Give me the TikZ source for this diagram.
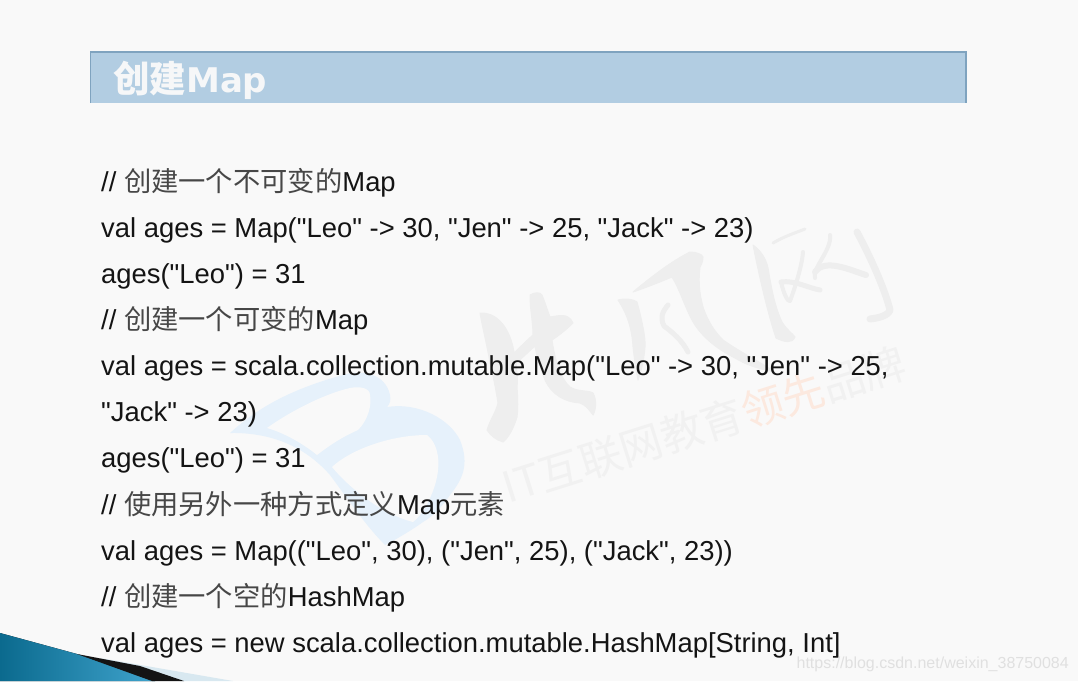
\documentclass[tikz,border=0pt]{standalone}
\usepackage{fontspec}
\newfontfamily\latin{Liberation Sans}
\newfontfamily\titlefont{DejaVu Sans Bold}
\newfontfamily\cjk{Noto Sans CJK SC}
\newcommand{\zh}[1]{{\cjk\fontsize{27.3}{27.3}\selectfont\color{black!72}#1}}
\definecolor{bgc}{HTML}{F9F9F9}
\definecolor{barc}{HTML}{B2CDE2}
\definecolor{barl}{HTML}{7FA3BF}
\definecolor{wmgray}{HTML}{EEEEEE}
\definecolor{wmblue}{HTML}{E6F1FB}
\definecolor{wmtext}{HTML}{F1F1F1}
\definecolor{wmorange}{HTML}{FCE9DF}
\definecolor{tridark}{HTML}{0B6A8E}
\definecolor{trilight}{HTML}{3FA3CC}
\definecolor{strip}{HTML}{D8E8F0}
\tikzset{
  x=1pt,y=-1pt,
  codeline/.style={anchor=base west,inner sep=0pt,font=\latin\fontsize{27.4}{27.4}\selectfont,text=black!92},
  wmfill/.style={fill=wmgray,draw=wmgray,line width=1pt,line join=round},
  wmstroke/.style={draw=wmgray,line cap=round,line join=round},
}
\begin{document}
\begin{tikzpicture}
\useasboundingbox (0,0) rectangle (1078,681);
\fill[bgc] (0,0) rectangle (1078,681);
% B logo watermark
\fill[wmblue] (230,433) .. controls (250,415) and (280,392) .. (343,375) .. controls (360,370) and (385,372) .. (390,395)
 .. controls (391,400) and (390,404) .. (387,407) .. controls (420,402) and (450,420) .. (460,440) .. controls (470,465) and (462,480) .. (450,495)
 .. controls (440,510) and (430,518) .. (423,522) .. controls (412,530) and (395,540) .. (385,545)
 .. controls (365,525) and (345,495) .. (330,475) .. controls (315,458) and (285,432) .. (230,433) -- cycle;
\fill[bgc] (267,428) .. controls (285,415) and (320,395) .. (350,388) .. controls (360,386) and (370,388) .. (370,395)
 .. controls (372,405) and (368,420) .. (358,430) .. controls (342,437) and (330,445) .. (317,455) .. controls (305,445) and (285,433) .. (267,428) -- cycle;
\fill[bgc] (332,467) .. controls (350,450) and (390,435) .. (427,435) .. controls (440,445) and (443,470) .. (430,498)
 .. controls (425,510) and (418,518) .. (413,522) .. controls (385,515) and (353,492) .. (332,467) -- cycle;
% calligraphy watermark
\fill[wmfill] (480,313) .. controls (495,312) and (508,325) .. (513,347) .. controls (517,365) and (518,380) .. (517,387)
 .. controls (518,400) and (518,410) .. (517,417) .. controls (513,430) and (508,438) .. (503,442) .. controls (496,440) and (490,435) .. (487,430)
 .. controls (490,420) and (496,412) .. (498,403) .. controls (496,390) and (493,375) .. (490,363) .. controls (487,345) and (483,330) .. (480,313) -- cycle;
\fill[wmfill] (530,295) .. controls (535,292) and (540,292) .. (542,295) .. controls (546,305) and (548,312) .. (550,317)
 .. controls (558,316) and (568,312) .. (573,323) .. controls (566,330) and (558,336) .. (552,340) .. controls (555,360) and (560,378) .. (570,387)
 .. controls (578,392) and (588,390) .. (593,393) .. controls (597,400) and (596,410) .. (593,415) .. controls (588,408) and (585,405) .. (580,403)
 .. controls (565,402) and (552,395) .. (545,380) .. controls (540,368) and (537,358) .. (535,346) .. controls (525,355) and (515,365) .. (507,370)
 -- (507,360) .. controls (515,352) and (525,342) .. (533,335) .. controls (533,322) and (530,310) .. (530,295) -- cycle;
\fill[wmfill] (618,300) .. controls (625,298) and (633,299) .. (637,302) .. controls (642,320) and (646,340) .. (645,347)
 .. controls (644,360) and (641,372) .. (638,380) .. controls (635,365) and (634,355) .. (633,347) .. controls (632,330) and (628,315) .. (618,300) -- cycle;
\fill[wmfill] (633,292) .. controls (650,278) and (670,262) .. (690,252) .. controls (696,252) and (702,254) .. (703,257)
 .. controls (703,262) and (701,265) .. (700,267) .. controls (698,285) and (700,295) .. (703,307) .. controls (708,322) and (715,332) .. (723,340)
 .. controls (740,352) and (760,362) .. (775,372) .. controls (755,368) and (745,364) .. (735,358) .. controls (715,348) and (700,335) .. (692,320)
 .. controls (684,305) and (680,290) .. (672,277) .. controls (660,282) and (645,288) .. (633,292) -- cycle;
\draw[wmstroke,line width=5pt] (668,305) .. controls (662,312) and (660,318) .. (664,326) .. controls (672,332) and (682,340) .. (688,352);
\fill[wmfill] (753,245) .. controls (760,250) and (766,258) .. (768,268) .. controls (771,285) and (774,305) .. (782,322)
 .. controls (787,330) and (793,334) .. (795,337) .. controls (792,344) and (784,342) .. (776,338) .. controls (770,320) and (762,290) .. (753,245) -- cycle;
\draw[wmstroke,line width=3pt] (773,243) .. controls (785,236) and (795,233) .. (805,229);
\draw[wmstroke,line width=7pt] (857,232) .. controls (872,260) and (885,290) .. (890,310) .. controls (888,316) and (878,318) .. (870,319);
\draw[wmstroke,line width=4pt] (781,282) .. controls (784,295) and (788,302) .. (790,301) .. controls (796,285) and (802,265) .. (803,252);
\draw[wmstroke,line width=5pt] (781,282) .. controls (795,280) and (808,288) .. (820,290);
\draw[wmstroke,line width=4pt] (815,278) .. controls (812,268) and (832,250) .. (830,235);
\draw[wmstroke,line width=6pt] (815,272) .. controls (825,258) and (850,270) .. (866,275);
% slogan watermark
\node[rotate=17.5,inner sep=0pt,font=\cjk\fontsize{42.5}{42.5}\selectfont] (slogan) at (704,425)
 {\textcolor{wmtext}{IT互联网教育}\textcolor{wmorange}{领先}\textcolor{wmtext}{品牌}};
% title bar
\fill[barc] (90.5,52) rectangle (966,103);
\draw[barl,line width=1.2pt] (90.5,103) -- (90.5,52) -- (966,52) -- (966,103);
\node[anchor=base west,inner sep=0pt,text=bgc!96!barc,font=\cjk\bfseries\fontsize{36.5}{36.5}\selectfont] (title) at (113,92) {创建{\titlefont\fontsize{34}{34}\selectfont Map}};
% code
\node[codeline] (l1) at (101,191) {// \zh{创建一个不可变的}Map};
\node[codeline] (l2) at (101,237) {val ages = Map("Leo" -> 30, "Jen" -> 25, "Jack" -> 23)};
\node[codeline] (l3) at (101,283) {ages("Leo") = 31};
\node[codeline] (l4) at (101,329) {// \zh{创建一个可变的}Map};
\node[codeline] (l5) at (101,375) {val ages = scala.collection.mutable.Map("Leo" -> 30, "Jen" -> 25,};
\node[codeline] (l6) at (101,421) {"Jack" -> 23)};
\node[codeline] (l7) at (101,467) {ages("Leo") = 31};
\node[codeline] (l8) at (101,514) {// \zh{使用另外一种方式定义}Map\zh{元素}};
\node[codeline] (l9) at (101,560) {val ages = Map(("Leo", 30), ("Jen", 25), ("Jack", 23))};
\node[codeline] (l10) at (101,606) {// \zh{创建一个空的}HashMap};
\node[codeline] (l11) at (101,652) {val ages = new scala.collection.mutable.HashMap[String, Int]};
% corner
\fill[strip] (100,658) -- (233,681) -- (180,681) -- cycle;
\fill[left color=tridark,right color=trilight] (0,633) -- (77,654) -- (155,681) -- (0,681) -- cycle;
\fill[black!92] (77,654) -- (140,666) -- (184,681) -- (152,681) -- cycle;
% url
\node[anchor=base east,inner sep=0pt,text=black!12,font=\latin\fontsize{16}{16}\selectfont] (url) at (1069,668) {https://blog.csdn.net/weixin\_38750084};
\end{tikzpicture}
\end{document}
